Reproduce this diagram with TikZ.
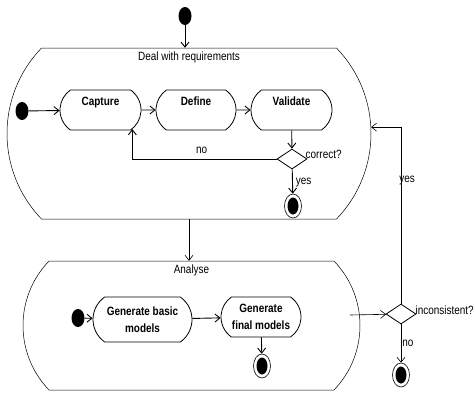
\documentclass[tikz,border=0pt]{standalone}
\usepackage{fontspec}
\setmainfont[FakeStretch=0.83]{Liberation Sans}
\usetikzlibrary{arrows.meta, shapes.misc, shapes.geometric, positioning}

\begin{document}
\begin{tikzpicture}
        [
            x=1pt, y=-1pt,
            every node/.style={
                font=\fontsize{12}{14}\selectfont
            },
            superstate/.style={
                draw,
                line width=0.5pt,
                rounded rectangle,
                rounded rectangle arc length=88,
                inner sep=0pt
            },
            activity/.style={
                draw,
                line width=0.8pt,
                rounded rectangle,
                rounded rectangle arc length=110,
                inner sep=0pt,
                align=center,
                font=\fontsize{12}{16.5}\selectfont\bfseries
            },
            toptext/.style={
                text height=15pt,
                text depth=25pt
            },
            initial/.style={
                ellipse,
                fill,
                minimum width=13pt,
                minimum height=18pt,
                inner sep=0pt
            },
            final/.style={
                ellipse,
                draw,
                line width=0.6pt,
                minimum width=17pt,
                minimum height=24pt,
                inner sep=0pt,
                path picture={
                    \fill (path picture bounding box.center)
                        ellipse [x radius=5.5pt, y radius=8.5pt];
                }
            },
            decision/.style={
                diamond,
                draw,
                line width=0.8pt,
                minimum width=30pt,
                minimum height=20pt,
                inner sep=0pt
            },
            guard/.style={
                inner sep=1pt
            },
            flow/.style={
                draw,
                line width=0.9pt,
                -{Straight Barb[length=5pt, width=8pt]}
            },
            link/.style={
                draw,
                line width=0.6pt,
                -{Straight Barb[length=5pt, width=8pt]}
            }
        ]
        \useasboundingbox (0,0) rectangle (474,392);

        % requirements
        \node[initial] (start) at (185,16) {};
        \node[superstate, minimum width=364pt, minimum height=171pt] (req) at (189,133.5) {};
        \node[below=1pt of req.north] (reqtitle) {Deal with requirements};
        \node[initial] (reqstart) at (22,111) {};
        \node[activity, toptext, minimum width=81pt, minimum height=40pt] (capture) at (100.5,110) {Capture};
        \node[activity, toptext, minimum width=80pt, minimum height=40pt] (define) at (196,110) {Define};
        \node[activity, toptext, minimum width=81pt, minimum height=40pt] (validate) at (291.5,110) {Validate};
        \node[decision] (correct) at (292,159) {};
        \node[anchor=base west, inner sep=0pt] (correctlabel) at ([xshift=-2pt, yshift=1pt]correct.east) {correct?};
        \node[final] (reqend) at (293,206) {};

        % analysis
        \node[superstate, minimum width=337pt, minimum height=129pt] (analyse) at (191.5,325.5) {};
        \node[below=1pt of analyse.north] (anatitle) {Analyse};
        \node[initial] (anastart) at (78,318) {};
        \node[activity, minimum width=99pt, minimum height=45pt] (basic) at (142.5,319.5) {Generate basic\\models};
        \node[activity, minimum width=80pt, minimum height=40pt] (finalmodels) at (261,317) {Generate\\final models};
        \node[final] (anaend) at (262,366) {};
        \coordinate (anaexit) at (350,315);
        \node[decision] (inconsistent) at (401,314) {};
        \node[anchor=base west, inner sep=0pt] (inconsistentlabel) at ([xshift=-1pt]inconsistent.east) {inconsistent?};
        \node[final] (end) at (401,375) {};

        % transitions
        \draw[flow] (start) -- (start |- req.north);
        \draw[flow] (reqstart) -- (capture);
        \draw[flow] (capture) -- (define);
        \draw[flow] (define) -- (validate);
        \draw[flow] (validate) -- (correct);
        \draw[flow] (correct) -| node[guard, above=4pt, pos=0.26] {no} (capture.-31);
        \draw[flow] (correct) -- node[guard, right=2pt, pos=0.55] {yes} (reqend);
        \draw[link] (req.south) -- (req.south |- analyse.north);
        \draw[flow] (anastart) -- (basic);
        \draw[flow] (basic) -- (finalmodels);
        \draw[flow] (finalmodels) -- (anaend);
        \draw[link] (anaexit) -- (inconsistent);
        \draw[link] (inconsistent) |- node[guard, right, pos=0.35, xshift=-3pt] {yes} (req.2);
        \draw[link] (inconsistent) -- node[guard, right] {no} (end);
    \end{tikzpicture}
\end{document}
